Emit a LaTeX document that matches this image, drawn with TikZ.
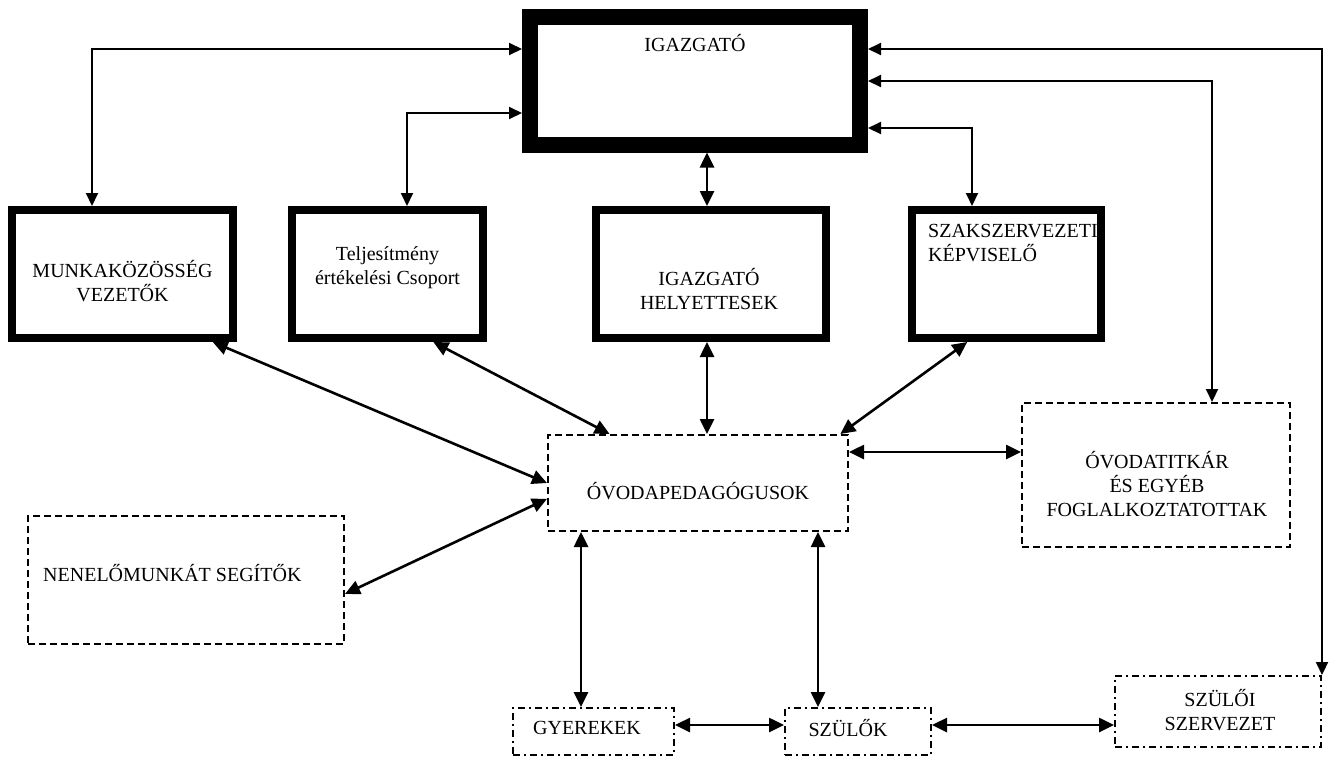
\documentclass[tikz,border=0pt]{standalone}
\usepackage{fontspec}
\setmainfont{Liberation Serif}
\usetikzlibrary{arrows.meta}

\begin{document}
\begin{tikzpicture}[x=1pt,y=-1pt,
        every node/.style={font=\fontsize{20}{24}\selectfont},
        box/.style={draw,rectangle,inner sep=0pt},
        fobox/.style={box,line width=16pt},
        vbox/.style={box,line width=8pt},
        szbox/.style={box,line width=2pt,dash pattern=on 7pt off 4pt},
        pbox/.style={box,line width=2pt,dash pattern=on 7pt off 4pt on 2pt off 4pt},
        felirat/.style={align=center,inner sep=0pt},
        nyil/.style={line width=2.6pt,{Triangle[length=15pt,width=14pt]}-{Triangle[length=15pt,width=14pt]}},
        tnyil/.style={line width=2pt,{Triangle[length=13pt,width=12pt]}-{Triangle[length=13pt,width=12pt]}}]
    \useasboundingbox (0,0) rectangle (1335,756);
    % dobozok
    \node[fobox,minimum width=330pt,minimum height=128pt] (igazgato) at (695,80.5) {};
    \node[vbox,minimum width=221pt,minimum height=128pt] (mkv) at (122.5,274) {};
    \node[vbox,minimum width=191pt,minimum height=128pt] (telj) at (387.5,274) {};
    \node[vbox,minimum width=230pt,minimum height=128pt] (helyettes) at (711,274) {};
    \node[vbox,minimum width=189pt,minimum height=128pt] (szak) at (1006.5,274) {};
    \node[szbox,minimum width=300pt,minimum height=96pt] (ped) at (698,483) {};
    \node[szbox,minimum width=268pt,minimum height=144pt] (titkar) at (1156,475) {};
    \node[szbox,minimum width=316pt,minimum height=128pt] (nenel) at (186,580) {};
    \node[pbox,minimum width=161pt,minimum height=47pt] (gyer) at (593.5,731.5) {};
    \node[pbox,minimum width=146pt,minimum height=47pt] (szulok) at (858,731.5) {};
    \node[pbox,minimum width=206pt,minimum height=71pt] (szuloi) at (1218,711.5) {};
    % feliratok
    \node[felirat] (igazgatot) at (695,43) {IGAZGATÓ};
    \node[felirat] (mkvt) at (122.5,281) {MUNKAKÖZÖSSÉG\\VEZETŐK};
    \node[felirat] (teljt) at (387.5,268) {Teljesítmény\\értékelési Csoport};
    \node[felirat] (helyettest) at (709,289) {IGAZGATÓ\\HELYETTESEK};
    \node[felirat,align=left,anchor=north west] (szakt) at (928,224) {SZAKSZERVEZETI\\KÉPVISELŐ};
    \node[felirat] (pedt) at (698,491) {ÓVODAPEDAGÓGUSOK};
    \node[felirat] (titkart) at (1157,484) {ÓVODATITKÁR\\ÉS EGYÉB\\FOGLALKOZTATOTTAK};
    \node[felirat,anchor=west] (nenelt) at (43,573) {NENELŐMUNKÁT SEGÍTŐK};
    \node[felirat] (gyert) at (587,728) {GYEREKEK};
    \node[felirat] (szulokt) at (848,728) {SZÜLŐK};
    \node[felirat] (szuloit) at (1220,710) {SZÜLŐI\\SZERVEZET};
    % toresi pontok
    \coordinate (k1) at (92,49);
    \coordinate (k2) at (407,113);
    \coordinate (k3) at (707,0);
    \coordinate (k4) at (972,128);
    \coordinate (k5) at (1212,81);
    \coordinate (k6) at (1322,49);
    \coordinate (k7) at (0,452);
    \coordinate (k8) at (581,0);
    \coordinate (k9) at (818,0);
    \coordinate (k10) at (0,725);
    % kapcsolatok
    \draw[tnyil] (k1 -| igazgato.west) -- (k1) -- (k1 |- mkv.north);
    \draw[tnyil] (k2 -| igazgato.west) -- (k2) -- (k2 |- telj.north);
    \draw[nyil] (k3 |- igazgato.south) -- (k3 |- helyettes.north);
    \draw[tnyil] (k4 -| igazgato.east) -- (k4) -- (k4 |- szak.north);
    \draw[tnyil] (k5 -| igazgato.east) -- (k5) -- (k5 |- titkar.north);
    \draw[tnyil] (k6 -| igazgato.east) -- (k6) -- (k6 |- szuloi.north);
    \draw[nyil] (mkv.-37.2) -- (ped.west);
    \draw[nyil] (telj.-56.2) -- (ped.151.4);
    \draw[nyil] (k3 |- helyettes.south) -- (k3 |- ped.north);
    \draw[nyil] (szak.-120.1) -- (ped.19);
    \draw[nyil] (k7 -| ped.east) -- (k7 -| titkar.west);
    \draw[nyil] (ped.186.5) -- (nenel.-5.8);
    \draw[nyil] (k8 |- ped.south) -- (k8 |- gyer.north);
    \draw[nyil] (k9 |- ped.south) -- (k9 |- szulok.north);
    \draw[nyil] (k10 -| gyer.east) -- (k10 -| szulok.west);
    \draw[nyil] (k10 -| szulok.east) -- (k10 -| szuloi.west);
\end{tikzpicture}
\end{document}
